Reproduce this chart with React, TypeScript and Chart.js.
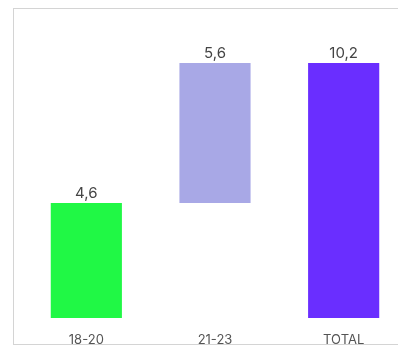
import React, { useEffect, useRef } from "react";
import { Chart, registerables } from "chart.js";

Chart.register(...registerables);

const categories = ["18-20", "21-23", "TOTAL"];
const steps = [4.6, 5.6];
const total = 10.2;
const barColors = ["#20F845", "#A8A8E6", "#6A2EFF"];

const ranges: [number, number][] = [];
let acc = 0;
for (const s of steps) {
  ranges.push([acc, +(acc + s).toFixed(2)]);
  acc += s;
}
ranges.push([0, total]);
const labels = [...steps, total].map((v) => v.toFixed(1).replace(".", ","));

const labelPlugin = {
  id: "barLabels",
  afterDatasetsDraw(chart: any) {
    const ctx = chart.ctx;
    const meta = chart.getDatasetMeta(0);
    ctx.save();
    ctx.font = "15px Inter, 'Open Sans', sans-serif";
    ctx.fillStyle = "#444";
    ctx.textAlign = "center";
    ctx.textBaseline = "bottom";
    meta.data.forEach((bar: any, i: number) => {
      const top = Math.min(bar.y, bar.base);
      ctx.fillText(labels[i], bar.x, top - 2);
    });
    ctx.restore();
  },
};

export default function App() {
  const ref = useRef<HTMLCanvasElement>(null);
  useEffect(() => {
    if (!ref.current) return;
    const chart = new Chart(ref.current, {
      type: "bar",
      data: {
        labels: categories,
        datasets: [
          {
            data: ranges as any,
            backgroundColor: barColors,
            borderWidth: 0,
            categoryPercentage: 1,
            barPercentage: 0.553,
          },
        ],
      },
      options: {
        animation: false,
        responsive: false,
        maintainAspectRatio: false,
        layout: { padding: { left: 22, right: 22, top: 18, bottom: 1 } },
        plugins: { legend: { display: false }, tooltip: { enabled: false } },
        scales: {
          x: {
            grid: { display: false },
            border: { display: false },
            ticks: {
              color: "#555",
              padding: 6,
              font: { family: "Inter, 'Open Sans', sans-serif", size: 13 },
            },
            afterFit(scale: any) {
              scale.height = 30;
            },
          },
          y: {
            display: false,
            min: 0,
            max: 12,
          },
        },
      },
      plugins: [labelPlugin],
    });
    return () => chart.destroy();
  }, []);
  return (
    <div
      style={{
        position: "fixed",
        left: 0,
        top: 0,
        width: 398,
        height: 349,
        overflow: "hidden",
        background: "#fff",
      }}
    >
      <div
        style={{
          position: "absolute",
          left: 13,
          top: 8,
          width: 400,
          height: 337,
          border: "1px solid #d4d4d4",
          boxSizing: "border-box",
        }}
      />
      <canvas
        ref={ref}
        width={430}
        height={349}
        style={{ position: "absolute", left: 0, top: 0, width: 430, height: 349 }}
      />
    </div>
  );
}
